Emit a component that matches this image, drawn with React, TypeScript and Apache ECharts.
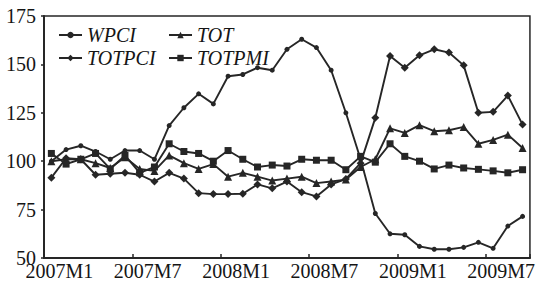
import React, { useEffect, useRef } from "react";
import * as echarts from "echarts";

const categories = [
  "2007M1", "2007M2", "2007M3", "2007M4", "2007M5", "2007M6",
  "2007M7", "2007M8", "2007M9", "2007M10", "2007M11", "2007M12",
  "2008M1", "2008M2", "2008M3", "2008M4", "2008M5", "2008M6",
  "2008M7", "2008M8", "2008M9", "2008M10", "2008M11", "2008M12",
  "2009M1", "2009M2", "2009M3", "2009M4", "2009M5", "2009M6",
  "2009M7", "2009M8", "2009M9",
];

const WPCI = [100, 106, 108, 105, 101, 105.5, 105.5, 101, 118.4, 127.6, 134.8, 129.6, 143.9, 144.8, 148.3, 147, 157.8, 163, 158.7, 147, 125, 101, 73, 62.5, 62, 56, 54.5, 54.5, 55.5, 58.1, 55, 66.5, 71.5];
const TOT = [100, 101, 101, 99, 96.5, 102, 96, 95, 103, 99, 96, 98.5, 92, 94, 92, 90, 91, 92, 88.7, 89.5, 90.5, 97, 101, 117, 114.6, 118.6, 115.5, 116, 117.7, 109, 111, 113.7, 106.8];
const TOTPCI = [91.5, 101.5, 101, 93, 93.5, 94, 93, 89.5, 94, 91, 83.5, 83, 83, 83.2, 88, 86, 89.5, 84, 81.8, 88, 90.8, 99, 122.4, 154.3, 148.3, 154.7, 157.8, 156.1, 149.5, 125, 125.5, 133.9, 118.9];
const TOTPMI = [104, 98.5, 101, 104, 96, 103, 94, 97, 109, 105, 104, 100, 105.5, 101, 97, 98, 97.5, 101, 100.5, 100.5, 95.6, 102.5, 99.5, 109, 102.5, 100, 96, 98, 96.5, 95.8, 95, 94, 95.6];

const yTicks = { min: 50, max: 175, interval: 25 };

const FONT = '"Liberation Serif", "Times New Roman", serif';
const INK = "#262626";
const TEXT = "#151515";

export default function App() {
  const ref = useRef<HTMLDivElement>(null);
  useEffect(() => {
    if (!ref.current) return;
    const chart = echarts.init(ref.current, null, { renderer: "svg" });
    const mk = (name: string, data: number[], symbol: string, size: number) => ({
      name,
      type: "line",
      data,
      symbol,
      symbolSize: size,
      lineStyle: { color: INK, width: 1.9 },
      itemStyle: { color: INK },
      emphasis: { disabled: true },
    });
    const legendBase = (name: string, left: number, top: number) => ({
      data: [name],
      left,
      top,
      orient: "horizontal",
      itemWidth: 23,
      itemHeight: 8,
      textStyle: { fontFamily: FONT, fontStyle: "italic", fontSize: 20, color: TEXT, lineHeight: 20 },
      selectedMode: false,
    });
    chart.setOption({
      animation: false,
      backgroundColor: "#fff",
      legend: [
        legendBase("WPCI", 53, 20),
        legendBase("TOT", 163, 20),
        legendBase("TOTPCI", 53, 43),
        legendBase("TOTPMI", 163, 43),
      ],
      grid: {
        left: 44,
        right: 7,
        top: 16,
        bottom: 29,
        show: true,
        borderColor: INK,
        borderWidth: 1.5,
      },
      xAxis: {
        type: "category",
        data: categories,
        boundaryGap: true,
        axisLine: { lineStyle: { color: INK, width: 2 } },
        axisTick: { show: true, inside: true, length: 4, interval: 5, lineStyle: { color: INK, width: 1.5 } },
        axisLabel: {
          interval: 5,
          fontFamily: FONT,
          fontSize: 20,
          color: TEXT,
          margin: 3,
          padding: [0, 0, 0, 16],
        },
        splitLine: { show: false },
      },
      yAxis: {
        type: "value",
        min: yTicks.min,
        max: yTicks.max,
        interval: yTicks.interval,
        axisLine: { show: true, lineStyle: { color: INK, width: 2 } },
        axisTick: { show: true, length: 3, lineStyle: { color: INK, width: 1.5 } },
        axisLabel: { fontFamily: FONT, fontSize: 20, color: TEXT, margin: 8 },
        splitLine: { show: false },
      },
      series: [
        mk("WPCI", WPCI, "circle", 5),
        mk("TOT", TOT, "triangle", 8),
        mk("TOTPCI", TOTPCI, "diamond", 8),
        mk("TOTPMI", TOTPMI, "rect", 7),
      ],
    });
    return () => chart.dispose();
  }, []);
  return (
    <div
      ref={ref}
      style={{ position: "fixed", left: 0, top: 0, width: 538, height: 287, background: "#fff" }}
    />
  );
}
